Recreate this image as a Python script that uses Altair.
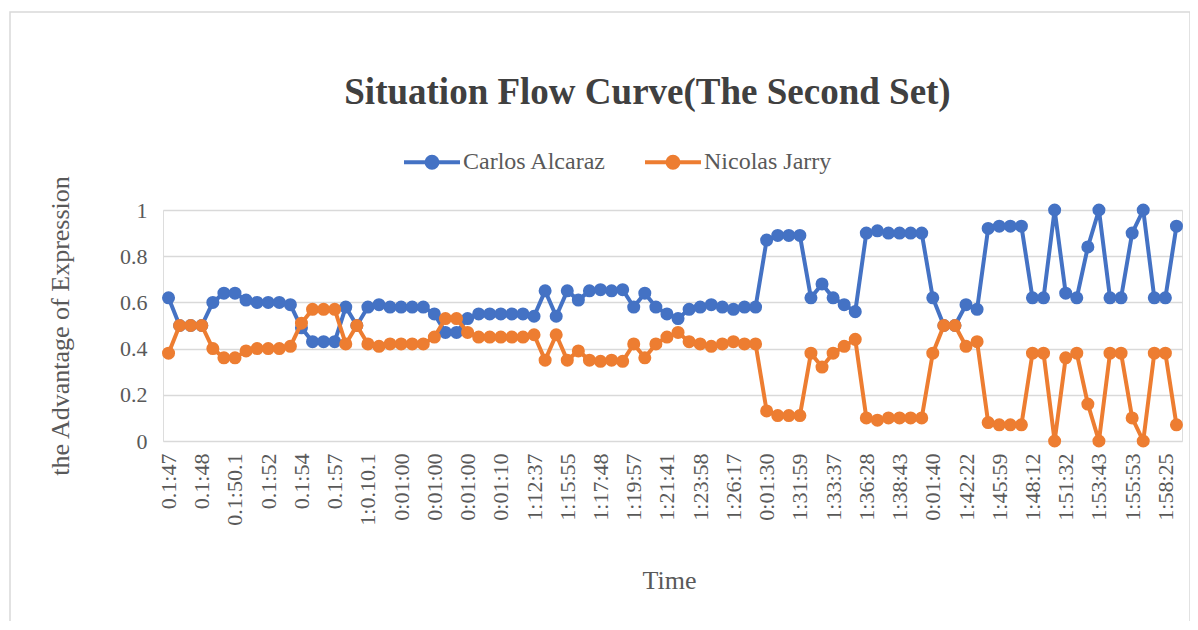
import altair as alt
import pandas as pd

title_text = "Situation Flow Curve(The Second Set)"
series_names = ["Carlos Alcaraz", "Nicolas Jarry"]
series_colors = ["#4472C4", "#ED7D31"]

tick_labels = [
    "0.1:47", "0.1:48", "0.1:50.1", "0.1:52", "0.1:54", "0.1:57", "1:0.10.1",
    "0:01:00", "0:01:00", "0:01:00", "0:01:10", "1:12:37", "1:15:55", "1:17:48",
    "1:19:57", "1:21:41", "1:23:58", "1:26:17", "0:01:30", "1:31:59", "1:33:37",
    "1:36:28", "1:38:43", "0:01:40", "1:42:22", "1:45:59", "1:48:12", "1:51:32",
    "1:53:43", "1:55:53", "1:58:25",
]

alcaraz = [
    0.62, 0.50, 0.50, 0.50, 0.60, 0.64, 0.64, 0.61, 0.60, 0.60,
    0.60, 0.59, 0.49, 0.43, 0.43, 0.43, 0.58, 0.50, 0.58, 0.59,
    0.58, 0.58, 0.58, 0.58, 0.55, 0.47, 0.47, 0.53, 0.55, 0.55,
    0.55, 0.55, 0.55, 0.54, 0.65, 0.54, 0.65, 0.61, 0.65, 0.655,
    0.65, 0.655, 0.58, 0.64, 0.58, 0.55, 0.53, 0.57, 0.58, 0.59,
    0.58, 0.57, 0.58, 0.58, 0.87, 0.89, 0.89, 0.89, 0.62, 0.68,
    0.62, 0.59, 0.56, 0.90, 0.91, 0.90, 0.90, 0.90, 0.90, 0.62,
    0.50, 0.50, 0.59, 0.57, 0.92, 0.93, 0.93, 0.93, 0.62, 0.62,
    1.00, 0.64, 0.62, 0.84, 1.00, 0.62, 0.62, 0.90, 1.00, 0.62,
    0.62, 0.93,
]

jarry = [
    0.38, 0.50, 0.50, 0.50, 0.40, 0.36, 0.36, 0.39, 0.40, 0.40,
    0.40, 0.41, 0.51, 0.57, 0.57, 0.57, 0.42, 0.50, 0.42, 0.41,
    0.42, 0.42, 0.42, 0.42, 0.45, 0.53, 0.53, 0.47, 0.45, 0.45,
    0.45, 0.45, 0.45, 0.46, 0.35, 0.46, 0.35, 0.39, 0.35, 0.345,
    0.35, 0.345, 0.42, 0.36, 0.42, 0.45, 0.47, 0.43, 0.42, 0.41,
    0.42, 0.43, 0.42, 0.42, 0.13, 0.11, 0.11, 0.11, 0.38, 0.32,
    0.38, 0.41, 0.44, 0.10, 0.09, 0.10, 0.10, 0.10, 0.10, 0.38,
    0.50, 0.50, 0.41, 0.43, 0.08, 0.07, 0.07, 0.07, 0.38, 0.38,
    0.00, 0.36, 0.38, 0.16, 0.00, 0.38, 0.38, 0.10, 0.00, 0.38,
    0.38, 0.07,
]

rows = []
for name, vals in zip(series_names, [alcaraz, jarry]):
    for i, v in enumerate(vals):
        rows.append({"idx": i, "value": v, "player": name})
df = pd.DataFrame(rows)

n = len(alcaraz)
label_expr = "[" + ",".join("'" + t + "'" for t in tick_labels) + "][round(datum.value / 3)]"

FONT = "Liberation Serif, Times New Roman, serif"
TXT = "#595959"
GRID = "#D9D9D9"

W, H = 1019, 231

x_enc = alt.X(
    "idx:Q",
    scale=alt.Scale(domain=[-0.5, n - 0.5], nice=False, zero=False),
    axis=alt.Axis(
        values=list(range(0, n, 3)),
        labelExpr=label_expr,
        labelAngle=-90,
        labelFont=FONT,
        labelFontSize=22,
        labelColor=TXT,
        labelPadding=12,
        ticks=False,
        domain=False,
        grid=False,
        title="Time",
        titleFont=FONT,
        titleFontSize=26,
        titleFontWeight="normal",
        titleColor=TXT,
        titleX=506,
        titleY=139,
        titleAlign="center",
        titleBaseline="middle",
        labelOverlap=False,
    ),
)
y_enc = alt.Y(
    "value:Q",
    scale=alt.Scale(domain=[0, 1], nice=False),
    axis=alt.Axis(
        values=[0, 0.2, 0.4, 0.6, 0.8, 1.0],
        format="~g",
        labelFont=FONT,
        labelFontSize=22,
        labelColor=TXT,
        labelPadding=16,
        ticks=False,
        domain=False,
        grid=True,
        gridColor=GRID,
        gridWidth=1.5,
        title="the Advantage of Expression",
        titleFont=FONT,
        titleFontSize=26,
        titleFontWeight="normal",
        titleColor=TXT,
        titleX=-103,
        titleY=H / 2,
        titleAlign="center",
        titleBaseline="middle",
        titleAngle=-90,
    ),
)

legend_path = (
    "M-1,0H1"
    "M-0.196,0A0.196,0.196,0,1,1,0.196,0A0.196,0.196,0,1,1,-0.196,0"
    "M-0.054,0A0.054,0.054,0,1,1,0.054,0A0.054,0.054,0,1,1,-0.054,0"
)
legend = alt.Legend(
    title=None,
    orient="none",
    direction="horizontal",
    legendX=239,
    legendY=-78,
    labelFont=FONT,
    labelFontSize=24,
    labelColor=TXT,
    labelOffset=1,
    columnPadding=30,
    symbolType=legend_path,
    symbolSize=3136,
    symbolStrokeWidth=4,
)
color_scale = alt.Scale(domain=series_names, range=series_colors)

base = alt.Chart(df).encode(x=x_enc, y=y_enc)

layers = []
for name in series_names:
    sub = base.transform_filter(alt.datum.player == name)
    layers.append(
        sub.mark_line(strokeWidth=4, strokeJoin="round").encode(
            color=alt.Color("player:N", scale=color_scale, legend=legend)
        )
    )
    layers.append(
        sub.mark_circle(size=170, opacity=1).encode(
            fill=alt.Fill("player:N", scale=color_scale, legend=None)
        )
    )

frame = alt.Chart(pd.DataFrame({"a": [0]})).mark_rect(
    fill="transparent", stroke=GRID, strokeWidth=1.5
).encode(
    x=alt.value(-153), x2=alt.value(1027), y=alt.value(-198), y2=alt.value(430)
)

chart = alt.layer(frame, *layers).properties(
    width=W,
    height=H,
    title=alt.TitleParams(
        text=title_text,
        font=FONT,
        fontSize=37,
        fontWeight="bold",
        color="#404040",
        anchor="middle",
        frame="group",
        dx=-25,
        offset=0,
        dy=101,
    ),
    autosize=alt.AutoSizeParams(type="none"),
    padding={"left": 155, "top": 202, "right": 8, "bottom": 180},
).configure_view(stroke=None).configure(background="white", font=FONT).configure_legend(
    labelFont=FONT, labelFontSize=24, labelColor=TXT
)

chart.save("out.html", embed_options={"renderer": "svg", "actions": False})
